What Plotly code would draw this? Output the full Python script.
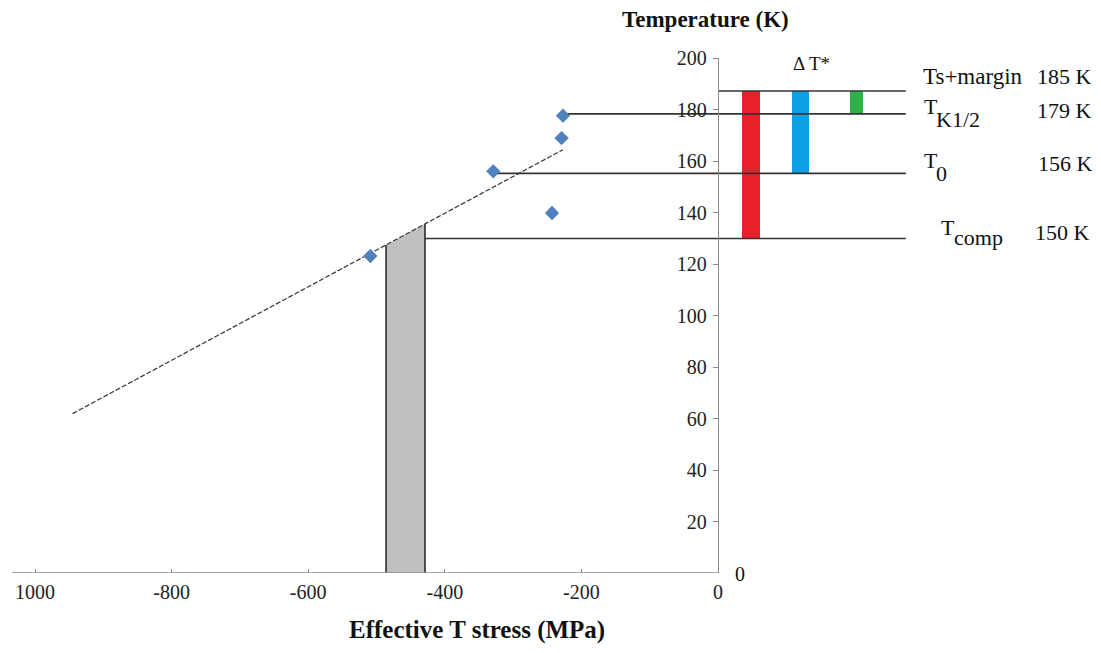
import numpy as np
import plotly.graph_objects as go

# ---------------- data ----------------
pts_stress = [-227, -229, -329, -243, -509]          # MPa
pts_temp = [177.6, 168.9, 156.0, 139.8, 123.1]      # K (as plotted)

trend_stress = [-945, -227]
trend_temp = [61.9, 164.4]

band_stress = [-486, -429]                           # grey band limits

level_names = ["Ts+margin", "TK1/2", "T0", "Tcomp"]
level_labels = ["185 K", "179 K", "156 K", "150 K"]
level_plot = [187.2, 178.3, 155.2, 129.9]            # drawn heights
level_start = [0, -227, -329, -429]                  # line start (MPa)
level_end = 275

bar_centers = [48.8, 121, 202.5]
bar_widths = [26.4, 24.4, 18.6]
bar_base = [129.9, 155.2, 178.3]
bar_top = [187.2, 187.2, 187.2]
bar_colors = ["#E8202A", "#0EA0E2", "#2DB24A"]

x_tickvals = [-1000, -800, -600, -400, -200, 0]
x_ticktext = ["1000", "-800", "-600", "-400", "-200", "0"]
y_tickvals = [20, 40, 60, 80, 100, 120, 140, 160, 180, 200]

# ---------------- geometry helpers ----------------
OFF = 8                       # page body margin
W, H = 1101 - 2 * OFF, 653 - 2 * OFF
MT = 58 - OFF
MB = H - (573 - OFF)
PH = H - MT - MB
X0PX = 718.0 - OFF            # x=0 position inside the figure
XS = 0.683
xr = [-X0PX / XS, (W - X0PX) / XS]


def X(px):                    # page px -> data x
    return (px - OFF - X0PX) / XS


def PX(px):                   # page px -> paper x
    return (px - OFF) / W


def PY(py):                   # page py -> paper y
    return (H - MB - (py - OFF)) / PH


FONT = "Liberation Serif"
fig = go.Figure()

# grey band (below trend line)
band_top = list(np.interp(band_stress, trend_stress, trend_temp))
fig.add_trace(go.Scatter(
    x=[band_stress[0], band_stress[0], band_stress[1], band_stress[1], band_stress[0]],
    y=[0, band_top[0], band_top[1], 0, 0],
    fill="toself", fillcolor="#C0C0C0", mode="none", hoverinfo="skip", showlegend=False))
for bx, bt in zip(band_stress, band_top):
    fig.add_trace(go.Scatter(x=[bx, bx], y=[0, bt], mode="lines",
                             line=dict(color="#222222", width=1.5),
                             hoverinfo="skip", showlegend=False))

# bars
for c, w, b, t, col in zip(bar_centers, bar_widths, bar_base, bar_top, bar_colors):
    fig.add_trace(go.Bar(x=[c], y=[t - b], base=[b], width=[w],
                         marker=dict(color=col, line=dict(width=0)), showlegend=False))

# horizontal level lines
for s, lv in zip(level_start, level_plot):
    fig.add_trace(go.Scatter(x=[s, level_end], y=[lv, lv], mode="lines",
                             line=dict(color="#333333", width=1.6),
                             hoverinfo="skip", showlegend=False))

# trend line
fig.add_trace(go.Scatter(x=trend_stress, y=trend_temp, mode="lines",
                         line=dict(color="#333333", width=1.2, dash="5px,2px"),
                         showlegend=False))

# x axis line (only up to 0)
fig.add_trace(go.Scatter(x=[X(12), 0], y=[0, 0], mode="lines",
                         line=dict(color="#8a8a8a", width=1.3),
                         hoverinfo="skip", showlegend=False, cliponaxis=False))

# data points
fig.add_trace(go.Scatter(x=pts_stress, y=pts_temp, mode="markers",
                         marker=dict(symbol="diamond", size=11, color="#4F81BD"),
                         showlegend=False))

ann = []


def txt(s, px, py, size, bold=False, xanchor="center"):
    ann.append(dict(x=PX(px), y=PY(py), xref="paper", yref="paper",
                    text=("<b>%s</b>" % s) if bold else s,
                    showarrow=False, xanchor=xanchor, yanchor="middle",
                    font=dict(family=FONT, size=size, color="#111111")))


txt("Temperature (K)", 706, 20, 23, bold=True)
txt("Effective T stress (MPa)", 477, 630, 25, bold=True)
txt("\u0394 T*", 811, 63, 19)
txt("0", 740, 574, 20)

# right-hand labels
txt(level_names[0], 921, 76, 23, xanchor="left")
txt("T", 922, 106, 22, xanchor="left")
txt("K1/2", 934, 119, 22, xanchor="left")
txt("T", 922, 160, 22, xanchor="left")
txt("0", 934, 173, 22, xanchor="left")
txt("T", 939, 228, 22, xanchor="left")
txt("comp", 952, 238, 22, xanchor="left")
txt(level_labels[0], 1094, 76, 22, xanchor="right")
txt(level_labels[1], 1094, 110, 22, xanchor="right")
txt(level_labels[2], 1095, 163, 22, xanchor="right")
txt(level_labels[3], 1092, 232, 22, xanchor="right")

fig.update_layout(
    width=W, height=H,
    margin=dict(l=0, r=0, t=MT, b=MB),
    paper_bgcolor="white", plot_bgcolor="white",
    barmode="overlay", bargap=0,
    showlegend=False,
    annotations=ann,
    xaxis=dict(range=xr, showgrid=False, zeroline=False, showline=False,
               tickvals=x_tickvals, ticktext=x_ticktext,
               ticks="inside", ticklen=4, tickcolor="#8a8a8a",
               ticklabelstandoff=5,
               tickfont=dict(family=FONT, size=20, color="#222222"),
               fixedrange=True),
    yaxis=dict(range=[0, 200], showgrid=False, zeroline=False,
               showline=True, linecolor="#8a8a8a", linewidth=1.3,
               anchor="free", position=X0PX / W, side="left",
               tickvals=y_tickvals, ticks="outside", ticklen=5, tickcolor="#8a8a8a",
               ticklabelstandoff=2,
               tickfont=dict(family=FONT, size=20, color="#222222"),
               automargin=False, fixedrange=True),
)

fig.write_html("out.html")
